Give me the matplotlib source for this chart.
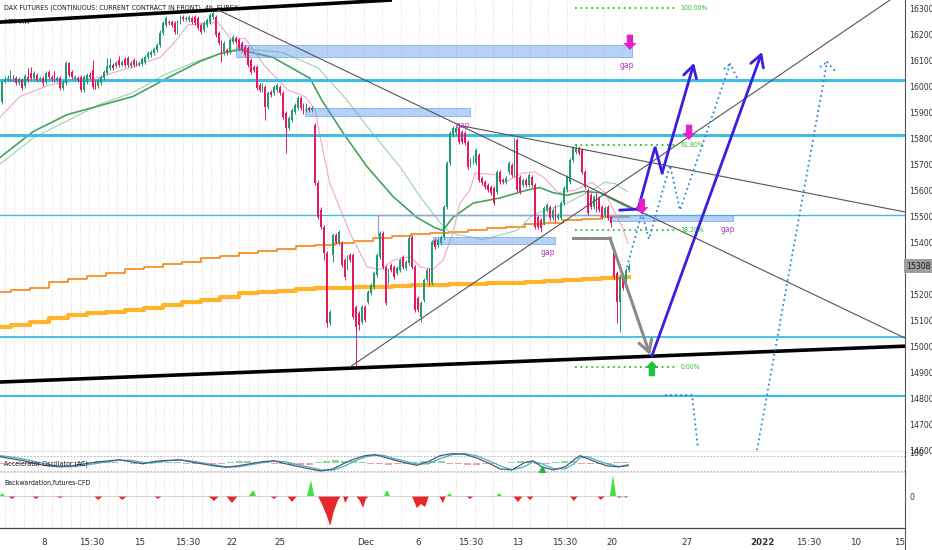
import numpy as np
import matplotlib.pyplot as plt
from matplotlib.patches import Rectangle
from matplotlib.lines import Line2D
from matplotlib.transforms import blended_transform_factory

plt.rcParams['font.family'] = ['DejaVu Sans']

title = 'DAX FUTURES (CONTINUOUS: CURRENT CONTRACT IN FRONT), 4h, EUREX'

# ---- 4h candles, oldest first ----
opens = [15939,16016,16027,16027,16035,16031,16012,16023,16000,16035,16050,16031,16043,16027,16031,16016,16054,16035,16050,16023,
         16031,15993,16012,16089,16054,16027,16031,16035,15985,16016,16043,16062,16016,16000,16012,16031,16050,16070,16081,16077,
         16100,16081,16104,16108,16077,16100,16093,16081,16085,16093,16112,16120,16127,16139,
         16158,16204,16235,16246,16246,16243,16208,16246,16266,16258,16254,16262,16266,16262,16235,16216,16235,16246,16266,16266,
         16204,16170,16131,16139,16131,16170,16185,16177,16166,16150,16146,16100,16073,16073,16004,15985,15996,15920,15977,15973,
         15985,15996,15973,15896,15839,15870,15900,15916,15954,15927,15908,15916,15908,
         15850,15627,15523,15458,15358,15089,15350,15427,15396,15396,15331,15304,15350,15350,15150,15127,15093,15150,15170,15204,
         15227,15273,15343,15435,15304,15246,15312,15304,15281,15293,15343,15300,15320,15420,15304,15185,15112,15177,15254,15293,
         15243,15408,15389,15396,15420,15535,15704,15812,15820,15839,15823,15820,15785,15696,15708,15704,15735,15646,15631,15620,
         15612,15608,15593,15670,15639,15631,15670,15696,15658,15793,15650,15620,15639,15620,15650,15620,15496,15485,15473,15523,
         15535,15493,15535,15493,15493,15550,15600,15631,15716,15746,15762,15754,15670,15600,15581,15535,15581,15570,15535,15504,
         15535,15496,15358,15281,15170,15273,15223,15293]
closes = [16016,16027,16031,16035,16027,16012,16027,15993,16039,16023,16031,16050,16023,16031,16012,16050,16035,16027,16023,16031,
          15993,16016,16089,16043,16035,16035,16023,15985,16035,16043,16035,15996,15996,16023,16035,16054,16077,16081,16070,16089,
          16081,16093,16081,16081,16089,16081,16081,16089,16104,16112,16127,16131,16143,16158,
          16204,16243,16262,16243,16235,16208,16246,16266,16258,16262,16266,16246,16243,16223,16208,16243,16254,16273,16281,16196,
          16166,16131,16166,16131,16177,16189,16170,16146,16139,16120,16081,16054,16062,15993,15985,16004,15920,15973,15966,15996,
          16004,15973,15881,15839,15877,15908,15927,15954,15916,15900,15927,15908,15916,
          15627,15496,15458,15358,15089,15131,15427,15400,15439,15312,15266,15343,15331,15112,15073,15081,15150,15100,15208,15235,
          15281,15350,15435,15304,15166,15293,15293,15266,15300,15331,15304,15323,15416,15304,15139,15139,15166,15254,15293,15243,
          15400,15381,15408,15420,15535,15704,15820,15839,15839,15785,15785,15781,15689,15716,15727,15754,15639,15627,15612,15600,
          15589,15550,15670,15631,15631,15646,15704,15658,15785,15600,15593,15639,15620,15658,15620,15458,15458,15454,15531,15543,
          15493,15523,15485,15504,15550,15608,15650,15716,15762,15762,15743,15670,15612,15512,15535,15573,15523,15523,15496,15531,
          15493,15473,15266,15170,15266,15223,15293,15308]
highs = [16023,16039,16043,16062,16043,16039,16035,16031,16046,16070,16073,16058,16050,16039,16039,16058,16062,16043,16058,16039,
         16039,16023,16096,16093,16062,16043,16039,16043,16043,16050,16054,16100,16023,16031,16043,16062,16108,16108,16089,16096,
         16116,16100,16112,16116,16096,16108,16100,16096,16112,16120,16135,16139,16150,16166,
         16216,16250,16269,16254,16254,16250,16254,16273,16273,16269,16273,16269,16273,16269,16243,16250,16262,16281,16289,16273,
         16212,16177,16173,16146,16185,16196,16193,16185,16173,16158,16154,16108,16081,16081,16012,16012,16004,15981,15985,16004,
         16012,16004,15981,15904,15885,15916,15935,15962,15962,15935,15935,15923,15923,
         15858,15639,15535,15466,15366,15139,15435,15435,15446,15404,15339,15350,15358,15358,15158,15135,15158,15158,15216,15243,
         15289,15358,15443,15443,15312,15300,15320,15312,15308,15339,15350,15331,15427,15427,15312,15193,15173,15262,15300,15300,
         15408,15416,15416,15427,15543,15712,15827,15846,15850,15850,15831,15827,15793,15723,15735,15762,15743,15654,15639,15627,
         15620,15616,15677,15677,15646,15654,15712,15704,15800,15800,15658,15646,15646,15666,15658,15627,15504,15493,15539,15550,
         15543,15531,15543,15512,15558,15616,15658,15723,15770,15777,15770,15762,15677,15608,15589,15581,15589,15577,15543,15539,
         15543,15504,15366,15289,15273,15281,15300,15320]
lows = [15931,16012,16020,16020,16020,16004,16004,15985,15993,16016,16023,16023,16016,16020,16000,16008,16027,16020,16016,16016,
        15985,15985,16004,16035,16027,16023,16016,15977,15977,16008,16027,15989,15989,15993,16004,16023,16043,16062,16062,16070,
        16073,16077,16073,16073,16070,16073,16077,16077,16077,16085,16104,16112,16120,16131,
        16150,16196,16227,16235,16227,16200,16200,16239,16250,16250,16246,16239,16235,16216,16200,16208,16227,16239,16258,16189,
        16158,16093,16120,16120,16123,16162,16162,16139,16131,16112,16073,16046,16054,15985,15977,15977,15870,15912,15958,15966,
        15977,15966,15873,15743,15831,15862,15893,15908,15908,15893,15900,15900,15900,
        15620,15489,15450,15331,15073,15081,15323,15393,15389,15304,15254,15293,15323,15104,14920,15062,15085,15093,15162,15196,
        15220,15266,15335,15296,15158,15239,15285,15258,15273,15285,15296,15293,15312,15296,15131,15131,15093,15170,15246,15235,
        15235,15373,15381,15389,15412,15527,15696,15804,15812,15777,15777,15773,15681,15689,15700,15696,15631,15620,15604,15593,
        15581,15543,15585,15623,15623,15623,15662,15650,15650,15593,15585,15612,15612,15612,15612,15450,15450,15439,15466,15516,
        15485,15485,15477,15485,15485,15543,15593,15623,15708,15739,15735,15662,15604,15504,15527,15527,15516,15516,15489,15496,
        15485,15458,15258,15089,15054,15216,15216,15285]
last_price = 15308

# ---- slow averages, one value per trading day ----
orange_day = [15210,15215,15225,15245,15260,15270,15280,15295,15305,15315,15325,15340,15345,15360,15365,15375,15385,
              15390,15395,15405,15415,15425,15430,15435,15440,15445,15455,15460,15470,15475,15485,15490,15495,15495]
yellow_day = [15073,15081,15093,15108,15119,15127,15131,15139,15146,15158,15170,15177,15189,15204,15208,15212,15219,
              15223,15223,15227,15227,15231,15235,15235,15239,15239,15243,15243,15246,15250,15254,15258,15262,15266]

# ---- moving averages (bar, price) ----
green_ma_x = [-0.6,10.7,22.3,33.5,44.8,56.4,67.7,74.5,81.3,92.6,105.2,109.3,116.5,124.7,133.6,141.7,147.9,150.6,154,
              160.9,170.1,179.3,183.7,188.2,192.9,198.4,204.2,211,215.5]
green_ma_y = [15725,15825,15890,15925,15960,16030,16095,16125,16140,16110,16030,15945,15820,15690,15575,15495,15455,15445,
              15495,15550,15570,15600,15610,15590,15580,15595,15590,15550,15525]
mtf_x = [-0.6,10.7,33.5,44.8,55.7,67.7,80.7,95.7,108,117.9,124.7,135.9,142.8,149.6,153,164.3,175.9,181.3,192.9,
         201.5,205.9,209.3,213.4]
mtf_y = [15700,15800,15930,15975,16045,16100,16145,16130,16070,15945,15845,15690,15575,15475,15435,15410,15445,15505,
         15550,15600,15630,15625,15595]
pink_x = [-0.6,6.2,16.5,33.5,44.8,54,59.1,63.6,73.8,78.6,83,89.9,97.7,103.5,107,108.6,112,118.9,124.7,129.1,133.6,
          139.4,142.8,147.2,150.6,154,156.4,159.8,161.5,168.4,171.8,177.6,182,185.4,189.9,195.7,201.5,205.9,208.3,
          211.7,213.8]
pink_y = [15880,15960,16005,16035,16075,16110,16170,16235,16245,16175,16185,16075,15985,15960,15910,15810,15625,15435,
          15305,15295,15330,15345,15305,15295,15330,15435,15550,15600,15665,15660,15630,15665,15670,15645,15590,15600,
          15630,15590,15535,15460,15395]

# ---- drawings ----
h_levels = [16025, 15810, 15505, 15035, 14810]
zones = [(80, 215, 16112, 16158), (103.5, 159.8, 15885, 15916), (147.2, 188.8, 15393, 15420), (207.6, 249.6, 15481, 15504)]
fib_levels = [16300, 15773, 15446, 14920]
fib_labels = ['100.00%', '61.80%', '38.20%', '0.00%']
upper_channel = ([-0.6, 133.2], [16246, 16331])
lower_channel = ([-0.6, 308.3], [14862, 15000])
line_a = ([73.8, 308.3], [16293, 15031])
line_b = ([155.7, 308.3], [15850, 15516])
line_c = ([118.9, 303.2], [14920, 16331])
grey_path = ([195, 207.6, 221.3], [15416, 15416, 14966])
blue_path1 = ([211, 217.2, 223, 225.4, 236.3], [15523, 15527, 15766, 15666, 16089])
blue_path2 = ([221.9, 259.5], [14962, 16131])
dot_path1 = ([213.4, 218.5, 220.9, 228.1, 231.5, 248.6, 251], [15304, 15512, 15412, 15696, 15523, 16085, 16031])
dot_hook1 = ([246.5, 248.6], [16066, 16085])
dot_path2 = ([226.4, 235.6, 237.6], [14812, 14812, 14612])
dot_path3 = ([257.8, 281.7, 284.7], [14600, 16093, 16054])
dot_hook3 = ([279.3, 281.7], [16073, 16093])
down_marks = [(214.4, 16139), (234.6, 15793), (218.5, 15508)]
up_marks = [(221.9, 14943)]
gap_labels = [(213.4, 16081), (247.9, 15450), (186.5, 15362), (157.4, 15850)]

# ---- Accelerator Oscillator pane ----
ac_x = [-0.6,3.5,7.6,11.7,15.8,19.9,23.7,28.4,32.9,37,40,44.1,48.2,51.3,54.4,57.4,60.5,64.3,68.4,72.5,76.6,80.6,84.7,
        88.8,92.9,97,101.1,105.2,109,113.1,117.2,120.6,124,127.4,130.5,133.6,137.6,141.7,145.5,149.6,153.7,157.8,161.9,
        166,170.1,174.2,178.3,181.3,184.4,188.2,192.3,195.3,197.4,200.1,202.5,206.6,210.7,213.8]
ac_dark = [80,70,60,45,35,30,35,45,55,60,65,55,45,55,60,62,65,55,45,35,28,35,45,55,60,45,32,20,10,20,50,70,85,90,78,65,
           50,38,55,85,95,92,75,50,20,15,50,60,30,15,30,65,85,70,55,35,30,40]
ac_teal = [85,78,68,55,42,33,30,38,48,57,63,62,52,48,57,61,64,60,50,40,30,30,40,50,58,55,40,28,15,14,35,60,78,88,86,72,
           58,44,45,70,90,96,85,62,35,16,30,55,45,22,20,45,75,80,65,45,32,34]
ac_hist = [-4,-6,-8,-8,-6,-4,-2,0,2,4,6,8,6,5,-3,-6,-5,3,5,4,3,-4,-7,-8,-6,-5,4,7,8,6,4,-5,-8,-10,-12,-9,
           6,10,12,10,8,5,-5,-8,-9,-6,-4,6,10,9,7,-5,-8,-10,-9,-7,-4,-3,6,9,7,-6,-5,5,8,9,-5,-7,-6,-4,2,3]

# ---- Backwardation pane ----
bw_x = [-0.6,0.1,1.1,2.2,3.5,4.9,10.3,11.7,13.1,18.5,19.9,21.3,31.5,32.9,34.6,39.7,41.1,42.8,52,53.3,54.7,70.4,72.5,74.2,
        76.6,78.6,80.6,84.4,85.8,86.8,91.6,92.9,94.3,97.4,99.1,100.8,104.2,105.6,106.6,107.9,109.3,111.0,112.1,113.4,
        114.8,115.8,116.5,117.2,118.5,120.9,122.3,123.3,124.3,125.4,130.5,131.5,132.5,140.0,141.7,143.1,144.5,145.8,
        149.3,150.6,151.6,152.0,152.7,153.7,158.5,159.8,161.2,169.0,169.7,170.7,174.5,176.2,177.9,179.0,180.3,181.7,
        193.9,195.3,196.7,203.2,204.5,205.9,207.6,208.6,209.7,210.0,210.7,212.1,213.1,213.8]
bw_v = [0,3,0,0,-3,0,0,-3,0,0,-2,0,0,-4,0,0,-4,0,0,-3,0,0,-5,0,0,-7,0,0,6,0,0,-3,0,0,-6,0,0,16,0,0,-8,-20,-30,-15,
        -4,0,0,-7,0,0,-5,-12,-3,0,0,6,0,0,-12,-8,-11,0,0,-7,0,0,3,0,0,-3,0,0,3,0,0,-6,0,0,-4,0,0,-5,0,0,-4,0,0,21,0,
        0,-2,0,-2,0]

date_pos = [14.4, 30.8, 46.9, 63.3, 78.6, 95.0, 124.3, 142.1, 160.2, 176.2, 192.3, 208.3, 233.9, 259.5, 275.5, 291.6, 306.6]
date_lab = ['8', '15:30', '15', '15:30', '22', '25', 'Dec', '6', '15:30', '13', '15:30', '20', '27', '2022', '15:30', '10', '15']

# ================= drawing =================
UP, DOWN = '#1f9d6c', '#e8185e'
CYAN = '#3dbde8'
INDIGO = '#3a1ee2'
DOTBLUE = '#2f83e0'
FIBG = '#2dbf2d'
MAG = '#e91ec4'
XL = (-0.58, 308.3)
SMALL = dict(family=['DejaVu Sans'], fontstretch='condensed')

fig = plt.figure(figsize=(9.32, 5.5), dpi=100)
W = 905 / 932
ax = fig.add_axes([0, 98 / 550, W, 452 / 550])
ac = fig.add_axes([0, 77 / 550, W, 21 / 550])
bw = fig.add_axes([0, 22 / 550, W, 55 / 550])

grid_x = list(np.arange(1.1, 102, 3.2)) + list(np.arange(111, 215, 6.3))
for a in (ax, ac, bw):
    a.set_xlim(*XL)
    a.spines['top'].set_visible(False)
    a.spines['left'].set_visible(False)
    a.spines['right'].set_color('#555555')
    a.spines['right'].set_linewidth(0.8)
    a.spines['bottom'].set_color('#444444')
    a.spines['bottom'].set_linewidth(0.9)
    a.yaxis.tick_right()
    a.tick_params(axis='y', length=0, pad=3, labelsize=5.6, labelcolor='#333333')
    a.tick_params(axis='x', length=0)
    for gx in grid_x:
        a.axvline(gx, color='#dedede', lw=0.6, dashes=(2, 2), zorder=0)

ax.set_ylim(14593, 16331)
ax.set_yticks([p for p in range(14600, 16400, 100) if p != 15300])
ax.tick_params(axis='x', labelbottom=False)
ac.tick_params(axis='x', labelbottom=False)

# slow step averages
day_start = -3.4 + 6.5 * np.arange(len(orange_day))
ax.step(list(day_start) + [214], orange_day + [orange_day[-1]], where='post', color='#f57c00', lw=1.1, zorder=2)
ax.step(list(day_start) + [214], yellow_day + [yellow_day[-1]], where='post', color='#ffb42a', lw=3.0, zorder=2)

# moving averages
ax.plot(mtf_x, mtf_y, color='#9ccfb8', lw=0.8, zorder=2)
ax.plot(green_ma_x, green_ma_y, color='#45a35a', lw=1.2, zorder=2)
ax.plot(pink_x, pink_y, color='#f2a6c8', lw=0.8, zorder=2)

# horizontal levels
for lvl, lw in zip(h_levels, [2.2, 2.2, 1.0, 1.3, 1.5]):
    ax.axhline(lvl, color=CYAN, lw=lw, zorder=3)

# zones
for x0, x1, p0, p1 in zones:
    ax.add_patch(Rectangle((x0, p0), x1 - x0, p1 - p0, fc=(0.36, 0.6, 0.93, 0.45),
                           ec=(0.36, 0.6, 0.93, 0.7), lw=0.6, zorder=3))
ax.plot([128.4, 210], [15504, 15504], color='#9fa3d4', lw=1.0, zorder=3)
ax.plot([128.4, 128.4], [15504, 15420], color='#9fa3d4', lw=1.0, zorder=3)

# candles
o = np.array(opens); c = np.array(closes); h = np.array(highs); l = np.array(lows)
idx = np.arange(len(o))
col = np.where(c >= o, UP, DOWN)
body = c - o
body = np.where(np.abs(body) < 4, np.where(body >= 0, 4, -4), body)
ax.vlines(idx, l, h, colors=col, lw=0.7, zorder=4)
ax.bar(idx, body, bottom=o, width=0.62, color=col, lw=0, zorder=5)

# trend lines
ax.plot(*upper_channel, color='black', lw=2.6, zorder=6, solid_capstyle='butt')
ax.plot(*lower_channel, color='black', lw=2.6, zorder=6, solid_capstyle='butt')
for ln in (line_a, line_b, line_c):
    ax.plot(*ln, color='#555555', lw=0.8, zorder=6)

# fib
ax.hlines(fib_levels, 195.7, 230.8, colors=FIBG, linestyles=(0, (1, 2)), lw=1.3, zorder=6)
for lvl, lab in zip(fib_levels, fib_labels):
    ax.text(231.6, lvl, lab, color=FIBG, fontsize=5, va='center', ha='left', zorder=7, **SMALL)

def arrow_path(xs, ys, color, lw, ls='-'):
    ax.plot(xs[:-1], ys[:-1], color=color, lw=lw, ls=ls, zorder=7, solid_joinstyle='miter')
    ax.annotate('', xy=(xs[-1], ys[-1]), xytext=(xs[-2], ys[-2]),
                arrowprops=dict(arrowstyle='->,head_length=0.7,head_width=0.4', color=color, lw=lw,
                                shrinkA=0, shrinkB=0, mutation_scale=12), zorder=7)

arrow_path(*grey_path, color='#8a8a8a', lw=2.2)
arrow_path(*blue_path1, color=INDIGO, lw=2.0)
arrow_path(*blue_path2, color=INDIGO, lw=2.0)

for pth in (dot_path1, dot_hook1, dot_path2, dot_path3, dot_hook3):
    ax.plot(*pth, color=DOTBLUE, lw=1.3, ls=(0, (1, 1.8)), zorder=7)

for bx, by in down_marks:
    ax.annotate('', xy=(bx, by), xytext=(0, 11), textcoords='offset points',
                arrowprops=dict(arrowstyle='simple,head_length=0.5,head_width=0.95,tail_width=0.45',
                                fc=MAG, ec='none', shrinkA=0, shrinkB=0, mutation_scale=10), zorder=8)
for bx, by in up_marks:
    ax.annotate('', xy=(bx, by), xytext=(0, -11), textcoords='offset points',
                arrowprops=dict(arrowstyle='simple,head_length=0.5,head_width=0.95,tail_width=0.45',
                                fc='#1ec43c', ec='none', shrinkA=0, shrinkB=0, mutation_scale=10), zorder=8)
for gx, gy in gap_labels:
    ax.text(gx, gy, 'gap', color='#b23cc6', fontsize=5.5, ha='center', va='center', zorder=8)

# labels
ax.text(4 / 905, 1 - 8 / 452, title, transform=ax.transAxes, fontsize=5.0, color='#131722',
        va='center', ha='left', zorder=9, **SMALL)
ax.text(4 / 905, 1 - 22 / 452, 'MTF-MA', transform=ax.transAxes, fontsize=5.0, color='#131722',
        va='center', ha='left', zorder=9, **SMALL)
tr = blended_transform_factory(ax.transAxes, ax.transData)
ax.text(1.0 + 1 / 905, last_price, str(last_price), transform=tr, fontsize=5.6, color='#1a1a1a',
        va='center', ha='left', clip_on=False,
        bbox=dict(boxstyle='square,pad=0.3', fc='#9e9e9e', ec='none'))

# accelerator oscillator
ac.set_ylim(0, 103)
ac.set_yticks([100])
hx = np.arange(0, 3 * len(ac_hist), 3)
hv = np.array(ac_hist)
ac.bar(hx, hv, bottom=50, width=2.4, color=np.where(hv >= 0, '#8fd4a4', '#f4a0a0'), lw=0, zorder=2)
ac.axhline(82, color='#aaaaaa', lw=0.6, dashes=(2, 2))
ac.axhline(12, color='#aaaaaa', lw=0.6, dashes=(2, 2))
ac.plot(ac_x, ac_teal, color='#46b4c4', lw=0.9, zorder=3)
ac.plot(ac_x, ac_dark, color='#4a5a78', lw=0.9, zorder=3)
ac.plot([184.4], [14], marker='^', color='#1db84a', ms=6, zorder=4)
ac.text(4 / 905, 0.45, 'Accelerator Oscillator (AC)', transform=ac.transAxes, fontsize=5.0, color='#131722',
        va='center', ha='left', **SMALL)

# backwardation
bw.set_ylim(-32, 23)
bw.set_yticks([0])
bxa = np.array(bw_x); bva = np.array(bw_v)
bw.fill_between(bxa, bva, 0, where=bva <= 0, color='#e8262b', lw=0, interpolate=True)
bw.fill_between(bxa, bva, 0, where=bva >= 0, color='#3ee23e', lw=0, interpolate=True)
bw.plot([-0.6, 213.8], [0, 0], color='#c8c8c8', lw=0.5)
bw.text(4 / 905, 0.82, 'Backwardation,futures-CFD', transform=bw.transAxes, fontsize=5.0, color='#131722',
        va='center', ha='left', **SMALL)

bw.set_xticks(date_pos)
bw.set_xticklabels(date_lab)
bw.tick_params(axis='x', pad=7, labelsize=6.3, labelcolor='#333333')
for t in bw.get_xticklabels():
    if t.get_text() == '2022':
        t.set_fontweight('bold')

fig.add_artist(Line2D([W, W], [0, 22 / 550], color='#555555', lw=0.8, transform=fig.transFigure))

fig.savefig('out.png', dpi=100, facecolor='white')
